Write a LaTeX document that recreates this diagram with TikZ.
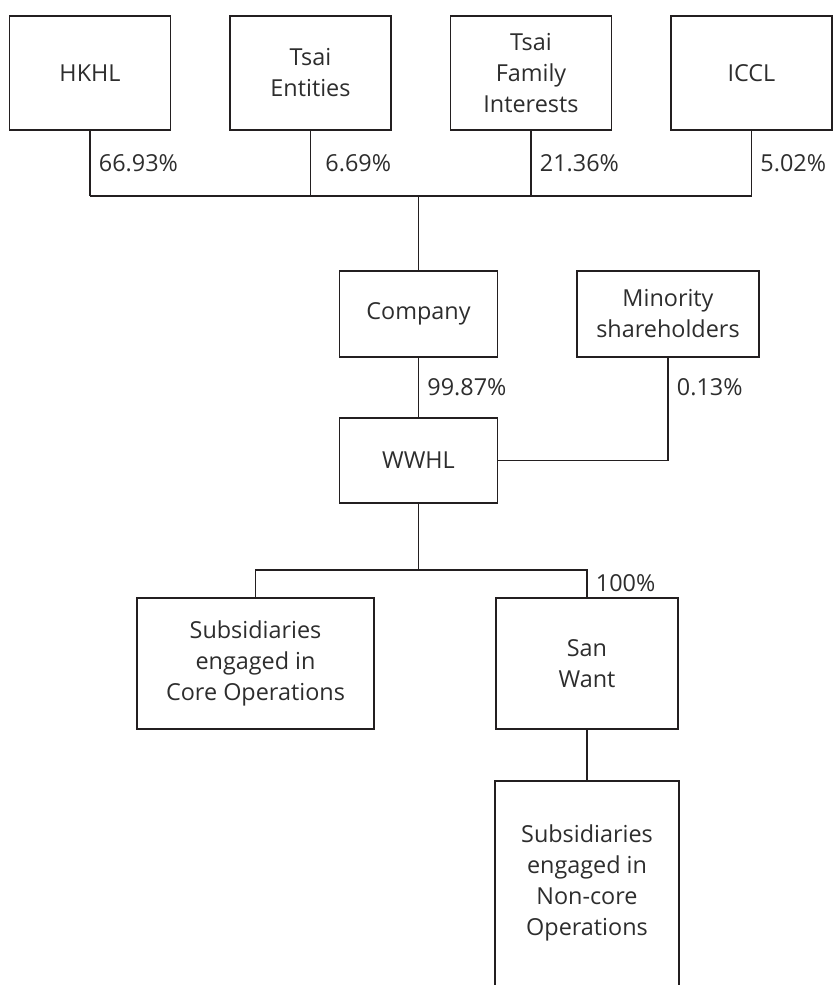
\documentclass[tikz,border=0pt]{standalone}
\usepackage{fontspec}
\setmainfont{Open Sans}
\usetikzlibrary{calc}
\definecolor{TextClr}{RGB}{45,45,45}
\definecolor{LineClr}{RGB}{35,31,32}

\begin{document}
\begin{tikzpicture}[x=0.5pt,y=-0.5pt,
  box/.style={draw=LineClr,line width=0.9pt,align=center,text=TextClr,
    font=\fontsize{11.7}{15.5}\selectfont,inner sep=2pt},
  topbox/.style={box,minimum width=80.5pt,minimum height=57pt},
  midbox/.style={box,minimum width=79pt,minimum height=43pt},
  lowbox/.style={box,minimum width=91pt,minimum height=65.5pt},
  link/.style={draw=LineClr,line width=0.9pt},
  pct/.style={right,text=TextClr,font=\fontsize{11.7}{14}\selectfont,inner sep=4pt}]
\useasboundingbox (0,0) rectangle (833,993);

% owners
\node[topbox] (hkhl) at (90,73) {HKHL};
\node[topbox] (tsaient) at (310.5,73) {Tsai\\Entities};
\node[topbox] (tsaifam) at (531,73) {Tsai\\Family\\Interests};
\node[topbox] (iccl) at (751.5,73) {ICCL};

\coordinate (bus) at (418.5,196);
\coordinate (split) at (418.5,570);

% holding companies
\node[midbox] (company) at (418.5,314) {Company};
\node[midbox,minimum width=91pt] (minority) at (668,314) {Minority\\shareholders};
\node[midbox,minimum height=42.5pt] (wwhl) at (418.5,460.5) {WWHL};

% subsidiaries
\node[lowbox,minimum width=118.5pt] (core) at (255.5,663.5) {Subsidiaries\\engaged in\\Core Operations};
\node[lowbox] (sanwant) at (587,663.5) {San\\Want};
\node[box,draw=none,minimum width=91pt,minimum height=101pt] (noncore) at (587,883)
  {Subsidiaries\\engaged in\\Non-core\\Operations};
\draw[link] (noncore.south west) -- (noncore.north west) -- (noncore.north east) -- (noncore.south east);

% connectors
\draw[link] (hkhl.south) -- (hkhl.south |- bus) node[pct,midway] {66.93\%};
\draw[link] (tsaient.south) -- (tsaient.south |- bus) node[pct,midway,xshift=3pt] {6.69\%};
\draw[link] (tsaifam.south) -- (tsaifam.south |- bus) node[pct,midway] {21.36\%};
\draw[link] (iccl.south) -- (iccl.south |- bus) node[pct,midway] {5.02\%};
\draw[link] (hkhl.south |- bus) -- (iccl.south |- bus);
\draw[link] (bus) -- (company.north);

\draw[link] (company.south) -- (wwhl.north) node[pct,midway] {99.87\%};
\draw[link] (minority.south) -- (minority.south |- wwhl.east) node[pct,pos=0.29] {0.13\%}
  -- (wwhl.east);

\draw[link] (wwhl.south) -- (split);
\draw[link] (core.north) |- (split) -| (sanwant.north) node[pct,pos=0.75] {100\%};
\draw[link] (sanwant.south) -- (noncore.north);

\end{tikzpicture}
\end{document}
